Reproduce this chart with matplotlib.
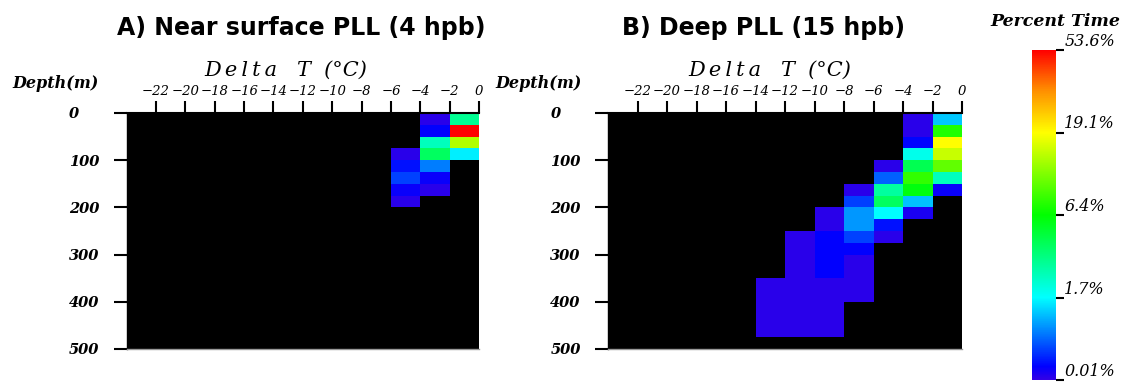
import numpy as np
import matplotlib
matplotlib.use("Agg")
import matplotlib.pyplot as plt
from matplotlib import colors
from matplotlib.cm import ScalarMappable

# ---------------- data ----------------
dT_edges = np.arange(-24, 1, 2)          # Delta T bins (°C)
depth_edges = np.arange(0, 501, 25)      # depth bins (m)
x_ticks = list(range(-22, 1, 2))
y_ticks = [0, 100, 200, 300, 400, 500]
cbar_ticks = [0.01, 1.7, 6.4, 19.1, 53.6]
cbar_labels = ["0.01%", "1.7%", "6.4%", "19.1%", "53.6%"]

titles = ["A) Near surface PLL (4 hpb)", "B) Deep PLL (15 hpb)"]

# non-empty cells: left edge of dT bin, top of depth bin, percent time
a_dT    = [-2, -2, -2, -2,
           -4, -4, -4, -4, -4, -4, -4,
           -6, -6, -6, -6, -6]
a_depth = [0, 25, 50, 75,
           0, 25, 50, 75, 100, 125, 150,
           75, 100, 125, 150, 175]
a_pct   = [3.0, 53.6, 13.6, 1.3,
           0.012, 0.023, 2.4, 3.9, 0.19, 0.02, 0.012,
           0.012, 0.03, 0.07, 0.02, 0.012]

b_dT    = [-2] * 7 + [-4] * 9 + [-6] * 7 + [-8] * 10 + [-10] * 11 + [-12] * 9 + [-14] * 5
b_depth = ([0, 25, 50, 75, 100, 125, 150] +
           [0, 25, 50, 75, 100, 125, 150, 175, 200] +
           [100, 125, 150, 175, 200, 225, 250] +
           [150, 175, 200, 225, 250, 275, 300, 325, 350, 375] +
           [200, 225, 250, 275, 300, 325, 350, 375, 400, 425, 450] +
           [250, 275, 300, 325, 350, 375, 400, 425, 450] +
           [350, 375, 400, 425, 450])
b_pct   = ([0.65, 7.3, 19.1, 15.0, 9.7, 2.4, 0.02] +
           [0.012, 0.012, 0.025, 1.9, 4.2, 7.9, 6.0, 0.6, 0.015] +
           [0.012, 0.12, 2.8, 3.9, 1.7, 0.03, 0.012] +
           [0.012, 0.068, 0.3, 0.3, 0.07, 0.023, 0.012, 0.012, 0.012, 0.012] +
           [0.012, 0.012, 0.023, 0.023, 0.023, 0.023, 0.012, 0.012, 0.012, 0.012, 0.012] +
           [0.012] * 9 +
           [0.012] * 5)


def build_grid(dts, depths, pcts):
    g = np.full((len(depth_edges) - 1, len(dT_edges) - 1), np.nan)
    for t, d, p in zip(dts, depths, pcts):
        i = int(np.searchsorted(depth_edges, d))
        j = int(np.searchsorted(dT_edges, t))
        g[i, j] = p
    return g


grids = [build_grid(a_dT, a_depth, a_pct), build_grid(b_dT, b_depth, b_pct)]

# ---------------- colour scale ----------------
fracs = np.linspace(0, 1, len(cbar_ticks))
logt = np.log10(cbar_ticks)


def fwd(x):
    x = np.asarray(x, dtype=float)
    with np.errstate(divide="ignore", invalid="ignore"):
        return np.interp(np.log10(x), logt, fracs)


def inv(y):
    return 10 ** np.interp(np.asarray(y, dtype=float), fracs, logt)


norm = colors.FuncNorm((fwd, inv), vmin=cbar_ticks[0], vmax=cbar_ticks[-1])
cmap = colors.LinearSegmentedColormap.from_list(
    "pct",
    [(0.0, (0.20, 0.0, 0.90)), (0.04, (0.0, 0.0, 1.0)), (0.25, (0.0, 1.0, 1.0)),
     (0.5, (0.0, 1.0, 0.0)), (0.75, (1.0, 1.0, 0.0)), (0.88, (1.0, 0.55, 0.0)),
     (1.0, (1.0, 0.0, 0.0))], N=512)
cmap.set_bad((0, 0, 0, 0))

# ---------------- figure ----------------
W, H = 1128, 385
fig = plt.figure(figsize=(W / 100, H / 100), dpi=100)
fig.patch.set_facecolor("white")

serif_it = dict(family="DejaVu Serif", style="italic")
TS = "\u2009"

ax_rects = [(126.7, 113, 479, 349), (608, 113, 962, 349)]
title_x = [301, 764]
xlabel_x = [286, 770]
depth_x = [12, 495]

for k, (x0, y0, x1, y1) in enumerate(ax_rects):
    ax = fig.add_axes([x0 / W, 1 - y1 / H, (x1 - x0) / W, (y1 - y0) / H])
    ax.set_facecolor("black")
    ax.pcolormesh(dT_edges, depth_edges, grids[k], cmap=cmap, norm=norm)
    ax.set_xlim(-24, 0)
    ax.set_ylim(500, 0)
    ax.xaxis.tick_top()
    ax.set_xticks(x_ticks)
    ax.set_yticks(y_ticks)
    ax.tick_params(axis="x", direction="out", length=9, width=1.5, pad=1.5,
                   labelsize=9.5, color="black")
    ax.tick_params(axis="y", direction="out", length=9.5, width=1.5, pad=32,
                   labelsize=10.5, color="black")
    for lab in ax.get_xticklabels():
        lab.set_fontfamily("DejaVu Serif")
        lab.set_fontstyle("italic")
    for lab in ax.get_yticklabels():
        lab.set_fontfamily("DejaVu Serif")
        lab.set_fontstyle("italic")
        lab.set_fontweight("bold")
        lab.set_horizontalalignment("left")
    ax.spines["right"].set_visible(False)
    ax.spines["bottom"].set_color("#999999")
    ax.spines["bottom"].set_linewidth(1.0)
    ax.spines["top"].set_linewidth(1.5)
    ax.spines["left"].set_linewidth(1.0)

    fig.text(title_x[k] / W, 1 - 28 / H, titles[k], ha="center", va="center",
             family="DejaVu Sans", weight="bold", fontsize=17)
    fig.text(xlabel_x[k] / W, 1 - 70 / H,
             TS.join("Delta") + "   T  (°C)", ha="center", va="center",
             fontsize=15, **serif_it)
    fig.text(depth_x[k] / W, 1 - 84 / H, "Depth(m)", ha="left", va="center",
             fontsize=11.5, weight="bold", **serif_it)

# colour bar
cax = fig.add_axes([1032 / W, 1 - 380 / H, 24 / W, 330 / H])
sm = ScalarMappable(norm=norm, cmap=cmap)
cb = fig.colorbar(sm, cax=cax, ticks=cbar_ticks)
cb.outline.set_visible(False)
cb.set_ticklabels(cbar_labels)
cax.tick_params(length=6, width=1.5, pad=0, labelsize=11.5, color="black")
for lab in cax.get_yticklabels():
    lab.set_fontfamily("DejaVu Serif")
    lab.set_fontstyle("italic")
    lab.set_verticalalignment("bottom")
fig.text(1055 / W, 1 - 21 / H, "Percent Time", ha="center", va="center",
         fontsize=12.5, weight="bold", **serif_it)

fig.savefig("out.png", dpi=100)
